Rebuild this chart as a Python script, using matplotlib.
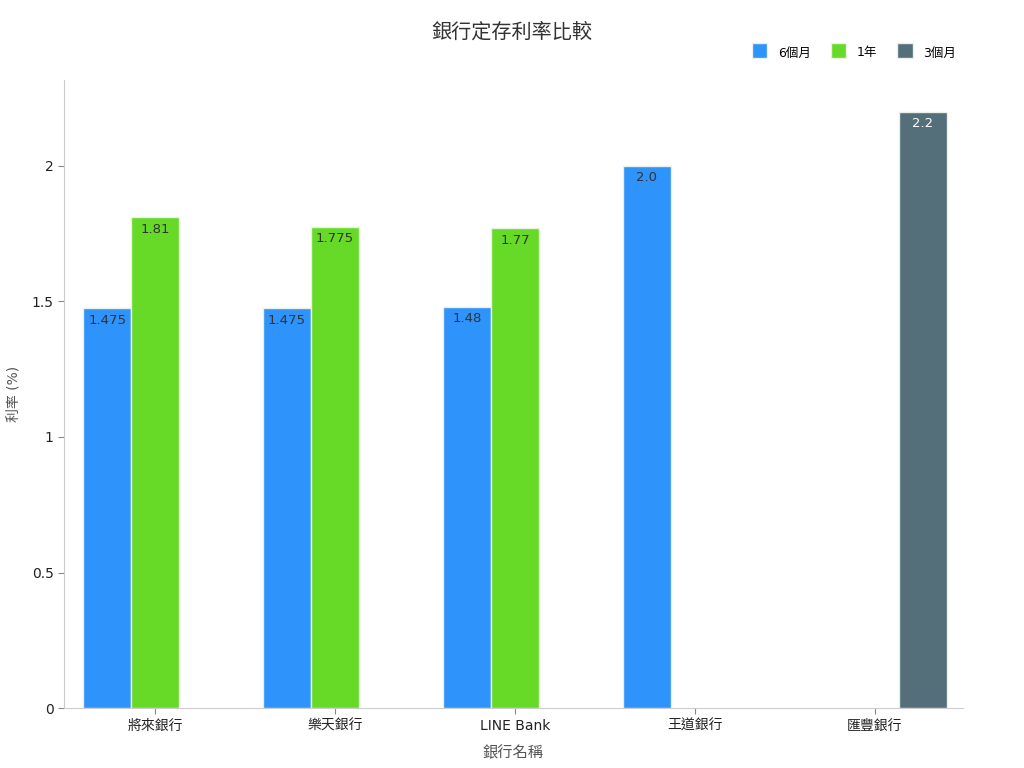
import numpy as np
import matplotlib
matplotlib.use("Agg")
import matplotlib.pyplot as plt

plt.rcParams["font.family"] = ["DejaVu Sans", "Noto Sans CJK TC"]

BANKS = ["將來銀行", "樂天銀行", "LINE Bank", "王道銀行", "匯豐銀行"]
SERIES = ["6個月", "1年", "3個月"]
RATE_6M = [1.475, 1.475, 1.48, 2.0, None]
RATE_1Y = [1.81, 1.775, 1.77, None, None]
RATE_3M = [None, None, None, None, 2.2]

COLORS = ["#2E93FA", "#66DA26", "#546E7A"]
LABEL_COLORS = ["#333333", "#333333", "#ffffff"]
GRAY = "#555555"

fig = plt.figure(figsize=(10.24, 7.68), dpi=100)
ax = fig.add_axes([0.0625, 0.078, 0.878, 0.818])

x = np.arange(len(BANKS))
width = 0.8 / 3
offsets = [-width, 0, width]

for vals, name, color, lc, off in zip([RATE_6M, RATE_1Y, RATE_3M], SERIES, COLORS, LABEL_COLORS, offsets):
    xs = [xi + off for xi, v in zip(x, vals) if v is not None]
    ys = [v for v in vals if v is not None]
    bars = ax.bar(xs, ys, width, color=color, edgecolor="#e8f0e8", linewidth=1, label=name, zorder=3)
    for b, v in zip(bars, ys):
        ax.annotate(str(v), (b.get_x() + b.get_width() / 2, v), xytext=(0, -4),
                    textcoords="offset points", ha="center", va="top", fontsize=9.5, color=lc)

ax.set_xlim(-0.506, 4.49)
ax.set_ylim(0, 2.317)
ax.set_xticks(x)
ax.set_xticklabels(BANKS, fontsize=10, color="#222222")
ax.set_yticks([0, 0.5, 1, 1.5, 2])
ax.set_yticklabels(["0", "0.5", "1", "1.5", "2"], fontsize=10, color="#222222")
ax.tick_params(colors="#888888", labelcolor="#222222", length=4)
for s in ["top", "right"]:
    ax.spines[s].set_visible(False)
for s in ["left", "bottom"]:
    ax.spines[s].set_color("#cccccc")

ax.set_xlabel("銀行名稱", fontsize=11, color=GRAY, labelpad=9)
ax.set_ylabel("利率 (%)", fontsize=10, color=GRAY, labelpad=8)

fig.text(0.5, 0.958, "銀行定存利率比較", ha="center", va="center", fontsize=14.5, color="#333333")

leg = fig.legend(loc="center right", bbox_to_anchor=(0.945, 0.931), ncol=3, frameon=False,
                 fontsize=9, handlelength=1.0, handleheight=1.0, columnspacing=1.6, handletextpad=1.1)
for h in leg.legend_handles:
    h.set_height(11)
    h.set_width(11)

fig.savefig("out.png", dpi=100)
